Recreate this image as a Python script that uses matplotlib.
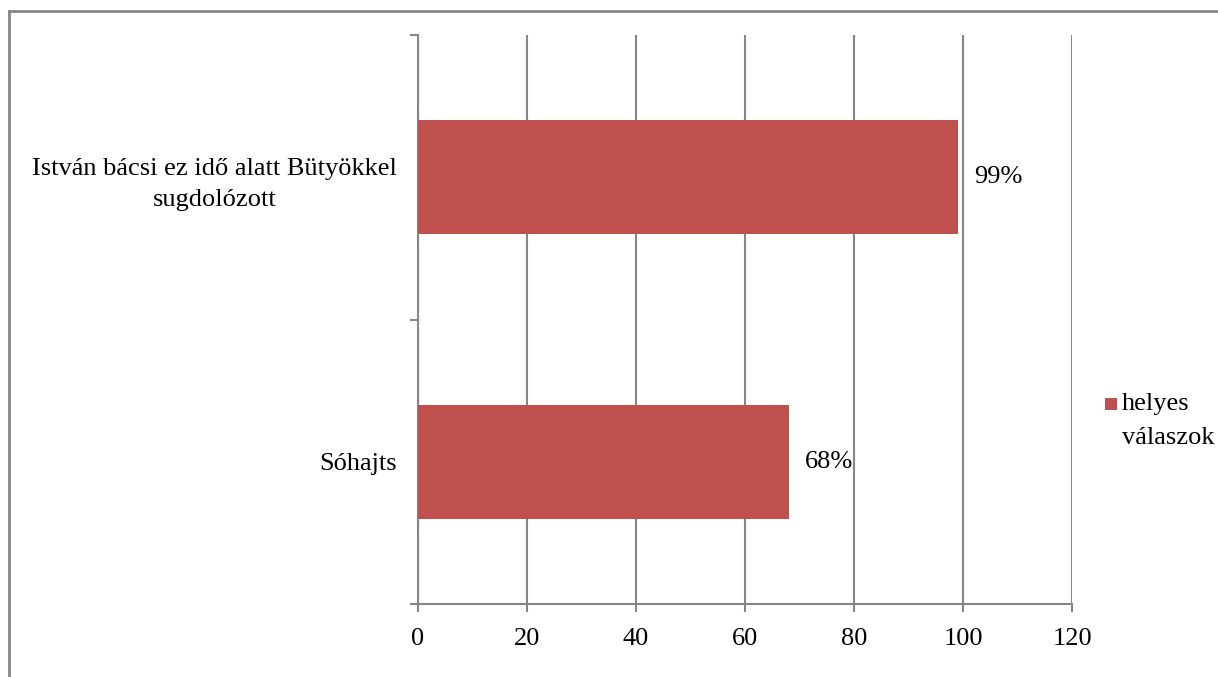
import matplotlib
matplotlib.use("Agg")
import matplotlib.pyplot as plt
from matplotlib.lines import Line2D
from matplotlib.patches import Rectangle

categories = ["István bácsi ez idő alatt Bütyökkel\nsugdolózott", "Sóhajts"]
values = [99, 68]
value_labels = ["99%", "68%"]
series_name = "helyes\nválaszok"
xticks = [0, 20, 40, 60, 80, 100, 120]

plt.rcParams['font.family'] = ['Liberation Serif', 'DejaVu Serif']
GRID = "#868686"
BAR = "#C0504D"
FS = 19

fig = plt.figure(figsize=(12.18, 6.77), dpi=100)
ax = fig.add_axes([418/1218, 73/677, 654/1218, 569/677])

ypos = list(range(len(categories)))
bars = ax.barh(ypos, values, height=0.4, color=BAR, label=series_name, zorder=3)
ax.set_ylim(len(categories) - 0.5, -0.5)
ax.set_xlim(0, 120)
ax.set_xticks(xticks)
ax.set_xticklabels([str(t) for t in xticks], fontsize=FS)
ax.xaxis.grid(True, color=GRID, linewidth=1.5, zorder=0)

ax.set_yticks(ypos)
ax.set_yticklabels(categories, fontsize=FS, multialignment='center', linespacing=1.55)
ax.set_yticks([i - 0.5 for i in range(len(categories) + 1)], minor=True)
ax.tick_params(axis='y', which='major', length=0, pad=15)
ax.tick_params(axis='y', which='minor', length=6, width=1.5, color=GRID, direction='out')
ax.tick_params(axis='x', length=6, width=1.5, color=GRID, direction='out', pad=11.5)

for s in ['top', 'right']:
    ax.spines[s].set_visible(False)
for s in ['left', 'bottom']:
    ax.spines[s].set_color(GRID)
    ax.spines[s].set_linewidth(1.5)

for b, lab in zip(bars, value_labels):
    ax.annotate(lab, xy=(b.get_width(), b.get_y() + b.get_height() / 2),
                xytext=(12, 0), textcoords='offset points',
                ha='left', va='center', fontsize=FS)

# legend (handle aligned with first line of label)
fig.add_artist(Rectangle((1105/1218, 1 - 410/677), 12/1218, 12/677,
                         transform=fig.transFigure, facecolor=BAR, edgecolor='none'))
fig.text(1122/1218, 1 - 393/677, series_name, fontsize=FS, ha='left', va='top',
         linespacing=1.7)

# chart-area border (left and top visible)
fig.add_artist(Line2D([8.5/1218, 8.5/1218], [0, 1 - 11/677], transform=fig.transFigure, color=GRID, linewidth=2))
fig.add_artist(Line2D([8.5/1218, 1], [1 - 11/677, 1 - 11/677], transform=fig.transFigure, color=GRID, linewidth=2))

fig.savefig("out.png", dpi=100)
